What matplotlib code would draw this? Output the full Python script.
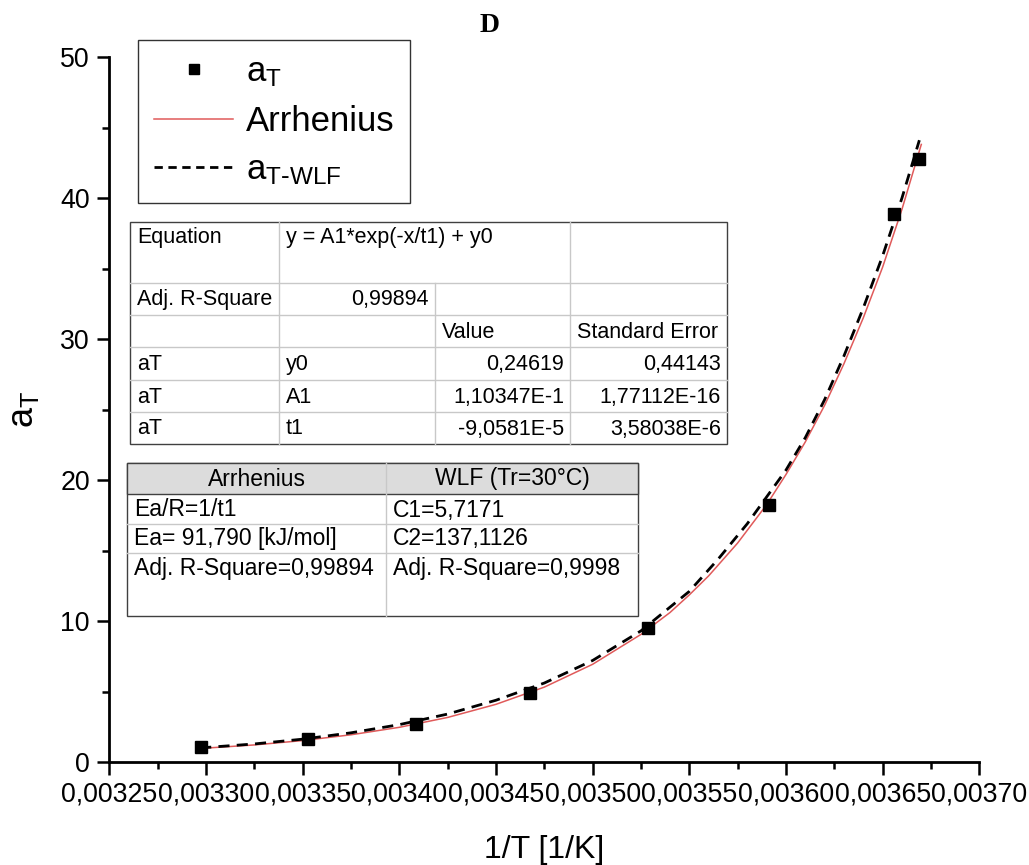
import matplotlib
matplotlib.use("Agg")
import matplotlib.pyplot as plt
from matplotlib.lines import Line2D
from matplotlib.patches import Rectangle

plt.rcParams['font.family'] = ['Liberation Sans', 'DejaVu Sans']

# measured points a_T vs 1/T
inv_T = [0.0032974, 0.0033526, 0.0034088, 0.0034676, 0.0035288, 0.0035914, 0.0036559, 0.0036688]
a_T = [1.04, 1.61, 2.70, 4.91, 9.48, 18.2, 38.9, 42.8]

# Arrhenius fit curve
arr_x = [0.003297, 0.003325, 0.00335, 0.003375, 0.0034, 0.003425, 0.00345, 0.003475, 0.0035,
         0.003525, 0.00354, 0.00355, 0.00356, 0.003575, 0.00359, 0.0036, 0.00361, 0.00362,
         0.00363, 0.00364, 0.00365, 0.00366, 0.00367]
arr_y = [0.96, 1.21, 1.52, 1.93, 2.46, 3.16, 4.09, 5.31, 6.93,
         9.05, 10.6, 11.85, 13.2, 15.53, 18.25, 20.39, 22.7, 25.3,
         28.25, 31.5, 35.1, 39.2, 43.8]

# WLF curve
wlf_x = [0.003297, 0.003325, 0.00335, 0.003375, 0.0034, 0.003425, 0.00345, 0.003475, 0.0035,
         0.003525, 0.00355, 0.003565, 0.00358, 0.0036, 0.00361, 0.00362, 0.00363, 0.00364,
         0.00365, 0.00366, 0.003669]
wlf_y = [1.0, 1.28, 1.62, 2.07, 2.65, 3.40, 4.38, 5.60, 7.20,
         9.30, 12.1, 14.4, 16.9, 20.7, 23.0, 25.7, 28.8, 32.2,
         35.9, 40.0, 44.1]

x_ticks = [0.00325, 0.00330, 0.00335, 0.00340, 0.00345, 0.00350, 0.00355, 0.00360, 0.00365, 0.00370]
x_tick_labels = ["0,00325", "0,00330", "0,00335", "0,00340", "0,00345",
                 "0,00350", "0,00355", "0,00360", "0,00365", "0,00370"]
y_ticks = [0, 10, 20, 30, 40, 50]

fit_rows = [["Equation", "y = A1*exp(-x/t1) + y0", "", ""],
            ["Adj. R-Square", "0,99894", "", ""],
            ["", "", "Value", "Standard Error"],
            ["aT", "y0", "0,24619", "0,44143"],
            ["aT", "A1", "1,10347E-1", "1,77112E-16"],
            ["aT", "t1", "-9,0581E-5", "3,58038E-6"]]
model_header = ["Arrhenius", "WLF (Tr=30°C)"]
model_rows = [["Ea/R=1/t1", "C1=5,7171"],
              ["Ea= 91,790 [kJ/mol]", "C2=137,1126"],
              ["Adj. R-Square=0,99894", "Adj. R-Square=0,9998"]]

W, H = 1029, 865
fig = plt.figure(figsize=(W / 100, H / 100), dpi=100)
ax = fig.add_axes([109.3 / W, 1 - 762 / H, 870 / W, 705 / H])

def fx(x):
    return x / W

def fy(y):
    return 1 - y / H

ax.plot(arr_x, arr_y, color='#e05a5a', lw=1.1, zorder=2)
ax.plot(wlf_x, wlf_y, color='black', lw=2, ls=(0, (4, 2.6)), zorder=3)
ax.plot(inv_T, a_T, 's', color='black', ms=8.5, zorder=4)

ax.set_xlim(0.00325, 0.00370)
ax.set_ylim(0, 50)
ax.set_xticks(x_ticks)
ax.set_xticklabels(x_tick_labels)
ax.set_xticks([t + 0.000025 for t in x_ticks[:-1]], minor=True)
ax.set_yticks(y_ticks)
ax.set_yticks([5, 15, 25, 35, 45], minor=True)
ax.spines['top'].set_visible(False)
ax.spines['right'].set_visible(False)
ax.spines['left'].set_linewidth(2)
ax.spines['bottom'].set_linewidth(2)
ax.tick_params(which='major', direction='out', length=9, width=1.8, labelsize=19.3, pad=5)
ax.tick_params(which='minor', direction='out', length=5, width=1.8)
ax.set_xlabel('1/T [1/K]', fontsize=23, labelpad=20)
ax.set_ylabel(r'$\mathregular{a_T}$', fontsize=26, labelpad=14)

fig.text(fx(490), fy(25), 'D', family='Liberation Serif', weight='bold', fontsize=20,
         ha='center', va='center')

handles = [Line2D([], [], marker='s', color='black', ls='none', ms=7.5),
           Line2D([], [], color='#e05a5a', lw=1.1),
           Line2D([], [], color='black', lw=2, ls=(0, (3, 2)))]
labels = [r'$\mathregular{a_T}$', 'Arrhenius', r'$\mathregular{a_{T\text{-}WLF}}$']
leg = ax.legend(handles, labels, loc='upper left', bbox_to_anchor=(fx(138), fy(40)),
                bbox_transform=fig.transFigure, borderaxespad=0, fancybox=False,
                edgecolor='#333333', framealpha=1, fontsize=25, handlelength=2.3,
                handletextpad=0.35, labelspacing=0.45, borderpad=0.45)
leg.get_frame().set_linewidth(1)

# fit results table
c1 = [130, 279, 435, 570, 727]
r1 = [222, 283, 315, 347, 380, 412, 444]
light = '#c8c8c8'
fig.add_artist(Rectangle((fx(c1[0]), fy(r1[-1])), (c1[-1] - c1[0]) / W, (r1[-1] - r1[0]) / H,
                         transform=fig.transFigure, facecolor='white', edgecolor='#404040', lw=1, zorder=5))
for y in r1[1:-1]:
    fig.add_artist(Line2D([fx(c1[0]), fx(c1[-1])], [fy(y), fy(y)], color=light, lw=1, zorder=6))
fig.add_artist(Line2D([fx(c1[1]), fx(c1[1])], [fy(r1[0]), fy(r1[-1])], color=light, lw=1, zorder=6))
fig.add_artist(Line2D([fx(c1[2]), fx(c1[2])], [fy(r1[1]), fy(r1[-1])], color=light, lw=1, zorder=6))
fig.add_artist(Line2D([fx(c1[3]), fx(c1[3])], [fy(r1[0]), fy(r1[-1])], color=light, lw=1, zorder=6))
for i, row in enumerate(fit_rows):
    yc = 238 if i == 0 else (r1[i] + r1[i + 1]) / 2 + 1
    for j, txt in enumerate(row):
        if not txt:
            continue
        right = (j >= 2 and i >= 3) or (i == 1 and j == 1)
        if right:
            fig.text(fx(c1[j + 1] - 6), fy(yc), txt, ha='right', va='center', fontsize=15.5, zorder=7)
        else:
            fig.text(fx(c1[j] + 7), fy(yc), txt, ha='left', va='center', fontsize=15.5, zorder=7)

# model parameter table
c2 = [127, 386, 638]
r2 = [463, 494, 524, 553, 616]
fig.add_artist(Rectangle((fx(c2[0]), fy(r2[-1])), (c2[-1] - c2[0]) / W, (r2[-1] - r2[0]) / H,
                         transform=fig.transFigure, facecolor='white', edgecolor='#404040', lw=1, zorder=5))
fig.add_artist(Rectangle((fx(c2[0]), fy(r2[1])), (c2[-1] - c2[0]) / W, (r2[1] - r2[0]) / H,
                         transform=fig.transFigure, facecolor='#dcdcdc', edgecolor='#404040', lw=1, zorder=5))
for y in r2[2:-1]:
    fig.add_artist(Line2D([fx(c2[0]), fx(c2[-1])], [fy(y), fy(y)], color=light, lw=1, zorder=6))
fig.add_artist(Line2D([fx(c2[1]), fx(c2[1])], [fy(r2[0]), fy(r2[-1])], color=light, lw=1, zorder=6))
for j, txt in enumerate(model_header):
    fig.text(fx((c2[j] + c2[j + 1]) / 2), fy(479), txt, ha='center', va='center', fontsize=16.5, zorder=7)
for i, row in enumerate(model_rows):
    yc = [510, 539, 568][i]
    for j, txt in enumerate(row):
        fig.text(fx(c2[j] + 7), fy(yc), txt, ha='left', va='center', fontsize=16.5, zorder=7)

fig.savefig('out.png', dpi=100)
